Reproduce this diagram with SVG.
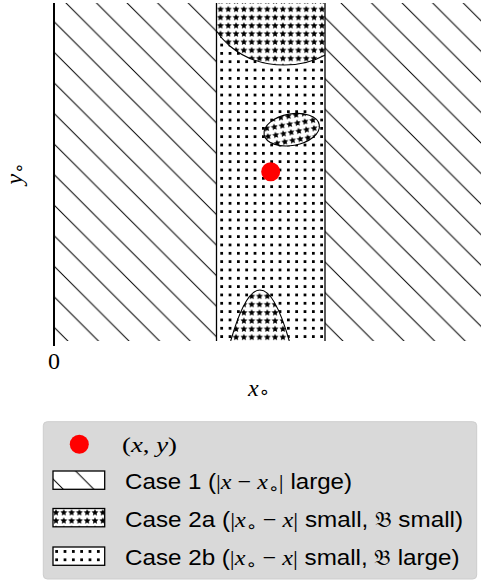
<svg xmlns="http://www.w3.org/2000/svg" width="481" height="584" viewBox="0 0 481 584">
<style>
.sans{font-family:"Liberation Sans","DejaVu Sans",sans-serif;font-size:22px;fill:#000}
.m{font-family:"Liberation Serif","DejaVu Serif",serif;fill:#000}
.ax{font-size:24px}
.lg{font-size:22px}
.mi{font-family:"Liberation Serif","DejaVu Serif",serif;font-style:italic}
.sub{font-family:"DejaVu Sans","DejaVu Serif",serif;font-style:normal}
.frak{font-family:"DejaVu Serif","DejaVu Sans","Noto Sans",serif;font-size:21px}
.edge{fill:none;stroke:#000;stroke-width:1.1}
.sw{stroke:#000;stroke-width:1.3}
.dot{fill:#000;shape-rendering:crispEdges}
</style>
<defs>
<g id="star"><polygon points="0,-3.6 0.999,-1.375 3.424,-1.112 1.617,0.525 2.116,2.912 0,1.7 -2.116,2.912 -1.617,0.525 -3.424,-1.112 -0.999,-1.375" fill="#000"/></g>
<pattern id="hatch" patternUnits="userSpaceOnUse" x="1.88" y="0" width="30.56" height="30.56">
<rect width="30.56" height="30.56" fill="#fff"/>
<path d="M-2,-2 L32.56,32.56 M28.56,-2 L32.56,2 M-2,28.56 L2,32.56" stroke="#000" stroke-width="1"/>
</pattern>
<pattern id="dots" patternUnits="userSpaceOnUse" x="0.955" y="-0.775" width="8.33" height="8.33">
<rect width="8.33" height="8.33" fill="#fff"/>
<rect x="3.1" y="3.1" width="2.1" height="2.1" class="dot"/>
</pattern>
<pattern id="stars" patternUnits="userSpaceOnUse" x="6.0" y="4.9" width="7.8" height="8.2">
<rect width="7.8" height="8.2" fill="#fff"/>
<use href="#star" x="3.9" y="4.4"/>
</pattern>
<pattern id="stars2" patternUnits="userSpaceOnUse" x="52.1" y="508.2" width="7.8" height="8.2">
<rect width="7.8" height="8.2" fill="#fff"/>
<use href="#star" x="3.9" y="4.4"/>
</pattern>
<pattern id="dots2" patternUnits="userSpaceOnUse" x="52.5" y="547.3" width="8.33" height="8.33">
<rect width="8.33" height="8.33" fill="#fff"/>
<rect x="3.1" y="3.1" width="2.1" height="2.1" class="dot"/>
</pattern>
<clipPath id="plotclip"><rect x="54" y="3" width="427" height="338"/></clipPath>
<clipPath id="bandclip"><rect x="216" y="3" width="109" height="338"/></clipPath>
</defs>

<g id="plot" clip-path="url(#plotclip)">
<g id="case1-left"><rect x="54" y="3" width="162" height="338" fill="url(#hatch)"/></g>
<g id="case1-right"><rect x="325" y="3" width="160" height="338" fill="url(#hatch)"/></g>
<g id="case2b-band"><rect x="216" y="3" width="109" height="338" fill="url(#dots)"/></g>
<g id="case2a-regions" clip-path="url(#bandclip)">
<ellipse id="case2a-top" cx="284" cy="0" rx="76.6" ry="65" class="edge" style="fill:url(#stars)"/>
<ellipse id="case2a-mid" cx="291.7" cy="129.7" rx="28" ry="15.8" transform="rotate(-10 291.7 129.7)" class="edge" style="fill:url(#stars)"/>
<g id="case2a-bottom">
<path d="M230.7,341 Q260,239 289.3,341 Z" fill="url(#stars)"/>
<path d="M230.7,341 Q260,239 289.3,341" class="edge"/>
</g>
</g>
<g id="band-edges">
<line x1="216.5" y1="3" x2="216.5" y2="341" stroke="#000" stroke-width="1.3"/>
<line x1="325" y1="3" x2="325" y2="341" stroke="#000" stroke-width="1.3"/>
</g>
<g id="point"><circle cx="270.7" cy="171.7" r="9.5" fill="#ff0000"/></g>
</g>

<g id="axes">
<line x1="54" y1="3" x2="54" y2="346" stroke="#000" stroke-width="2"/>
<text class="m ax" x="54" y="368.5" text-anchor="middle">0</text>
<text class="m ax" x="248" y="396"><tspan class="mi">x</tspan><tspan class="sub" font-size="18" dy="2">∘</tspan></text>
<text class="m ax" transform="translate(21.5,184.5) rotate(-90)"><tspan class="mi">y</tspan><tspan class="sub" font-size="18" dy="3">∘</tspan></text>
</g>

<g id="legend">
<rect x="43.3" y="421.7" width="433.4" height="157.3" rx="4" fill="#d9d9d9" stroke="#cdcdcd" stroke-width="1"/>
<g id="legend-point">
<circle cx="79.3" cy="444.3" r="9.5" fill="#ff0000"/>
<text class="m lg" x="122" y="451.5" textLength="55" lengthAdjust="spacingAndGlyphs">(<tspan class="mi">x</tspan>, <tspan class="mi">y</tspan>)</text>
</g>
<g id="legend-case1">
<rect x="53" y="471" width="51.7" height="18.3" fill="url(#hatch)" class="sw"/>
<text class="sans" x="125" y="488.5" textLength="227" lengthAdjust="spacingAndGlyphs">Case 1 (<tspan class="m">|<tspan class="mi">x</tspan> − <tspan class="mi">x</tspan><tspan class="sub" font-size="16" dy="5">∘</tspan><tspan dy="-5">|</tspan></tspan> large)</text>
</g>
<g id="legend-case2a">
<rect x="53" y="508.5" width="51.7" height="18.3" fill="url(#stars2)" class="sw"/>
<text class="sans" x="125" y="526.5" textLength="338" lengthAdjust="spacingAndGlyphs">Case 2a (<tspan class="m">|<tspan class="mi">x</tspan><tspan class="sub" font-size="16" dy="5">∘</tspan><tspan dy="-5"> − </tspan><tspan class="mi">x</tspan>|</tspan> small, <tspan class="frak">𝔅</tspan> small)</text>
</g>
<g id="legend-case2b">
<rect x="53" y="547" width="51.7" height="18.3" fill="url(#dots2)" class="sw"/>
<text class="sans" x="125" y="564.5" textLength="334.5" lengthAdjust="spacingAndGlyphs">Case 2b (<tspan class="m">|<tspan class="mi">x</tspan><tspan class="sub" font-size="16" dy="5">∘</tspan><tspan dy="-5"> − </tspan><tspan class="mi">x</tspan>|</tspan> small, <tspan class="frak">𝔅</tspan> large)</text>
</g>
</g>
</svg>
